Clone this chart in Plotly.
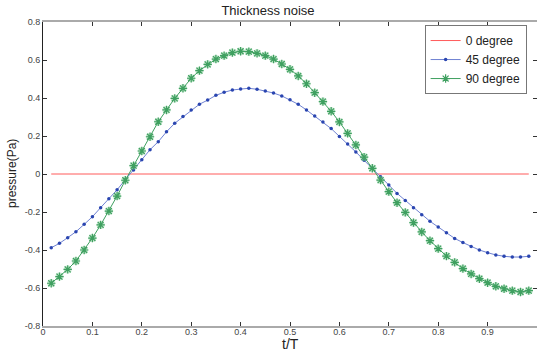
import plotly.graph_objects as go

t = [i / 60 for i in range(1, 60)]

deg0 = [0.0] * 59

deg45 = [-0.388, -0.365, -0.335, -0.304, -0.265, -0.225, -0.177, -0.130, -0.083, -0.030,
         0.021, 0.075, 0.128, 0.170, 0.222, 0.267, 0.302, 0.337, 0.367, 0.389,
         0.414, 0.430, 0.442, 0.447, 0.451, 0.446, 0.437, 0.426, 0.411, 0.391,
         0.367, 0.337, 0.305, 0.274, 0.239, 0.198, 0.158, 0.116, 0.072, 0.030,
         -0.014, -0.058, -0.102, -0.140, -0.177, -0.214, -0.249, -0.279, -0.309, -0.339,
         -0.361, -0.382, -0.400, -0.414, -0.426, -0.433, -0.437, -0.437, -0.433]

deg90 = [-0.575, -0.540, -0.502, -0.458, -0.400, -0.337, -0.268, -0.195, -0.116, -0.033,
         0.044, 0.121, 0.196, 0.275, 0.337, 0.398, 0.451, 0.504, 0.544, 0.577,
         0.605, 0.623, 0.639, 0.646, 0.644, 0.635, 0.623, 0.605, 0.579, 0.551,
         0.516, 0.475, 0.428, 0.381, 0.330, 0.274, 0.214, 0.153, 0.089, 0.030,
         -0.032, -0.093, -0.151, -0.202, -0.256, -0.305, -0.351, -0.393, -0.432, -0.465,
         -0.498, -0.526, -0.551, -0.572, -0.591, -0.604, -0.614, -0.621, -0.614]

xticks = [0, 0.1, 0.2, 0.3, 0.4, 0.5, 0.6, 0.7, 0.8, 0.9, 1]
xticktext = ["0", "0.1", "0.2", "0.3", "0.4", "0.5", "0.6", "0.7", "0.8", "0.9", "1"]
yticks = [-0.8, -0.6, -0.4, -0.2, 0, 0.2, 0.4, 0.6, 0.8]
yticktext = ["-0.8", "-0.6", "-0.4", "-0.2", "0", "0.2", "0.4", "0.6", "0.8"]

fig = go.Figure()
fig.add_trace(go.Scatter(x=t, y=deg0, mode="lines", name="0 degree",
                         line=dict(color="#ff5a5a", width=1)))
fig.add_trace(go.Scatter(x=t, y=deg45, mode="lines+markers", name="45 degree",
                         line=dict(color="#6f82d2", width=1),
                         marker=dict(symbol="circle", size=3.5, color="#2a45b0")))
fig.add_trace(go.Scatter(x=t, y=deg90, mode="markers", showlegend=False, hoverinfo="skip",
                         marker=dict(symbol="circle", size=8, color="rgba(130,205,150,0.45)")))
fig.add_trace(go.Scatter(x=t, y=deg90, mode="lines+markers", name="90 degree",
                         line=dict(color="#3fa060", width=1),
                         marker=dict(symbol="asterisk-open", size=7,
                                     line=dict(color="#0f6a30", width=1.2))))

PL, PT, PW, PH = 43, 22, 494, 304

fig.update_layout(
    width=537, height=351,
    margin=dict(l=PL, r=537 - PL - PW, t=PT, b=351 - PT - PH, autoexpand=False),
    paper_bgcolor="white", plot_bgcolor="white",
    font=dict(family="Liberation Sans, Arial", size=9, color="#444"),
    title=dict(text="Thickness noise", x=268 / 537, xref="container", xanchor="center",
               y=1 - 10 / 351, yref="container", yanchor="middle",
               font=dict(size=13, color="#222")),
    showlegend=True,
    legend=dict(x=0.979, y=0.99, xanchor="right", yanchor="top",
                bgcolor="white", bordercolor="#777", borderwidth=1,
                font=dict(size=12, color="#222"),
                tracegroupgap=0, itemwidth=30),
    xaxis=dict(range=[0, 1], tickvals=xticks, ticktext=xticktext, automargin=False,
               ticks="inside", ticklen=4, tickcolor="#333", tickwidth=1,
               ticklabelstandoff=-4,
               showgrid=False, zeroline=False,
               showline=True, linecolor="#aaaaaa", linewidth=2, mirror="ticks"),
    yaxis=dict(range=[-0.8, 0.8], tickvals=yticks, ticktext=yticktext, automargin=False,
               ticks="inside", ticklen=4, tickcolor="#333", tickwidth=1,
               showgrid=False, zeroline=False,
               showline=True, linecolor="#222", linewidth=1, mirror="ticks"),
    annotations=[
        dict(text="pressure(Pa)", x=(12 - PL) / PW, y=(PT + PH - 174) / PH,
             xref="paper", yref="paper", xanchor="center", yanchor="middle",
             showarrow=False, textangle=-90, font=dict(size=12, color="#222")),
        dict(text="t/T", x=0.5, y=(PT + PH - 344) / PH, xref="paper", yref="paper",
             xanchor="center", yanchor="middle",
             showarrow=False, font=dict(size=14, color="#222")),
    ],
)

fig.write_html("out.html", config={"displayModeBar": False},
               post_script="document.body.style.margin='0';document.body.style.overflow='hidden';")
